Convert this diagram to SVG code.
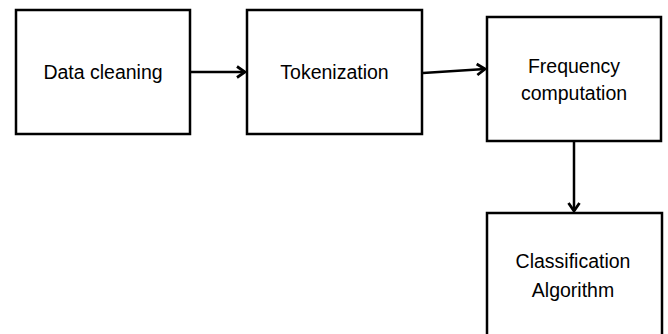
<svg xmlns="http://www.w3.org/2000/svg" width="668" height="334" viewBox="0 0 668 334">
<style>
.box{fill:#fff;stroke:#000;stroke-width:2.5}
.t{font-family:"Liberation Sans",Arial,sans-serif;font-size:19.5px;fill:#000;text-anchor:middle}
.c{fill:none;stroke:#000;stroke-width:2.5}
</style>
<defs>
<marker id="ah" viewBox="0 0 14 14" refX="12" refY="7" markerWidth="14" markerHeight="14" markerUnits="userSpaceOnUse" orient="auto">
<polyline points="4,1.5 12,7 4,12.5" fill="none" stroke="#000" stroke-width="2.8"/>
</marker>
</defs>
<rect width="668" height="334" fill="#fff"/>
<g id="connectors">
<line class="c" x1="191" y1="72" x2="245" y2="72" marker-end="url(#ah)"/>
<line class="c" x1="423" y1="73" x2="485" y2="69" marker-end="url(#ah)"/>
<line class="c" x1="574" y1="142" x2="574" y2="211" marker-end="url(#ah)"/>
</g>
<g id="data-cleaning">
<rect class="box" x="16" y="10" width="174" height="124"/>
<text class="t" x="103" y="79">Data cleaning</text>
</g>
<g id="tokenization">
<rect class="box" x="247" y="10" width="175" height="124"/>
<text class="t" x="334.5" y="79">Tokenization</text>
</g>
<g id="frequency-computation">
<rect class="box" x="487" y="17" width="174" height="124"/>
<text class="t" x="574" y="73">Frequency</text>
<text class="t" x="574" y="100">computation</text>
</g>
<g id="classification-algorithm">
<rect class="box" x="487" y="213" width="175" height="130"/>
<text class="t" x="573" y="268">Classification</text>
<text class="t" x="573" y="297">Algorithm</text>
</g>
</svg>
